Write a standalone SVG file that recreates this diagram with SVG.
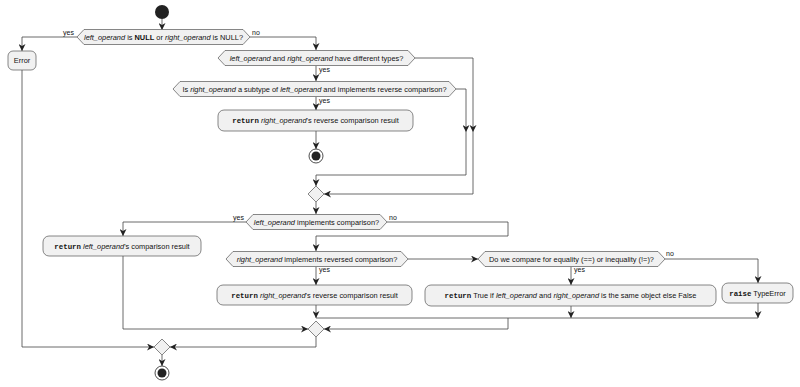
<svg xmlns="http://www.w3.org/2000/svg" width="800" height="387" viewBox="0 0 800 387">
<style>
.n{fill:#F1F1F1;stroke:#555;stroke-width:0.7}
.c{fill:none;stroke:#444;stroke-width:0.8}
.t{font-family:"Liberation Sans",Arial,sans-serif;font-size:7.4px;fill:#111;text-anchor:middle}
.l{font-family:"Liberation Sans",Arial,sans-serif;font-size:7px;fill:#111}
.i{font-style:italic}
.b{font-weight:bold}
.m{font-family:"Liberation Mono",monospace;font-weight:bold}
.s{fill:#222}
</style>
<defs>
<marker id="a" viewBox="0 0 10 10" refX="10" refY="5" markerWidth="7" markerHeight="7" markerUnits="userSpaceOnUse" orient="auto">
<path d="M0,0 L10,5 L0,10 L3,5 z" fill="#222"/>
</marker>
</defs>
<rect width="800" height="387" fill="#fff"/>
<g id="connectors">
<path class="c" d="M162,19 V30" marker-end="url(#a)"/>
<path class="c" d="M77,37 H22 V51" marker-end="url(#a)"/>
<path class="c" d="M250,37 H316 V50" marker-end="url(#a)"/>
<path class="c" d="M415,58 H473 V132" marker-end="url(#a)"/>
<path class="c" d="M473,132 V194 H324" marker-end="url(#a)"/>
<path class="c" d="M316,66 V81" marker-end="url(#a)"/>
<path class="c" d="M456,89 H466 V132" marker-end="url(#a)"/>
<path class="c" d="M466,132 V175 H316 V186" marker-end="url(#a)"/>
<path class="c" d="M316,97 V110" marker-end="url(#a)"/>
<path class="c" d="M316,131 V149" marker-end="url(#a)"/>
<path class="c" d="M316,202 V214" marker-end="url(#a)"/>
<path class="c" d="M246,222 H123 V236" marker-end="url(#a)"/>
<path class="c" d="M387,222 H508 V236 H316 V251" marker-end="url(#a)"/>
<path class="c" d="M408,259 H478" marker-end="url(#a)"/>
<path class="c" d="M316,267 V285" marker-end="url(#a)"/>
<path class="c" d="M571,267 V285" marker-end="url(#a)"/>
<path class="c" d="M665,259 H758 V283" marker-end="url(#a)"/>
<path class="c" d="M316,305 V318" marker-end="url(#a)"/>
<path class="c" d="M571,306 V318" marker-end="url(#a)"/>
<path class="c" d="M758,303 V318" marker-end="url(#a)"/>
<path class="c" d="M316,318 H758"/>
<path class="c" d="M508,318 V329 H324" marker-end="url(#a)"/>
<path class="c" d="M123,256 V329 H308" marker-end="url(#a)"/>
<path class="c" d="M316,337 V347 H170" marker-end="url(#a)"/>
<path class="c" d="M22,70 V347 H154" marker-end="url(#a)"/>
<path class="c" d="M162,355 V366" marker-end="url(#a)"/>
</g>
<g id="labels">
<text class="l" x="63" y="35">yes</text>
<text class="l" x="252" y="35">no</text>
<text class="l" x="319" y="72">yes</text>
<text class="l" x="319" y="103">yes</text>
<text class="l" x="233" y="220">yes</text>
<text class="l" x="389" y="220">no</text>
<text class="l" x="319" y="272">yes</text>
<text class="l" x="574" y="272">yes</text>
<text class="l" x="666" y="256">no</text>
</g>
<g id="start"><circle class="s" cx="162" cy="12" r="7"/></g>
<g id="d1">
<polygon class="n" points="77,37 84,29.5 243,29.5 250,37 243,44.5 84,44.5"/>
<text class="t" x="163.5" y="39.7"><tspan class="i">left_operand</tspan> is <tspan class="b">NULL</tspan> or <tspan class="i">right_operand</tspan> is NULL?</text>
</g>
<g id="error">
<rect class="n" x="8" y="51" width="28" height="19" rx="5"/>
<text class="t" x="22" y="63">Error</text>
</g>
<g id="d2">
<polygon class="n" points="218,58 225,50.5 408,50.5 415,58 408,65.5 225,65.5"/>
<text class="t" x="316.5" y="60.7"><tspan class="i">left_operand</tspan> and <tspan class="i">right_operand</tspan> have different types?</text>
</g>
<g id="d3">
<polygon class="n" points="173,89 180,81.5 449,81.5 456,89 449,96.5 180,96.5"/>
<text class="t" x="314.5" y="91.7">Is <tspan class="i">right_operand</tspan> a subtype of <tspan class="i">left_operand</tspan> and implements reverse comparison?</text>
</g>
<g id="box1">
<rect class="n" x="218" y="110" width="195" height="21" rx="6"/>
<text class="t" x="315.5" y="123.3"><tspan class="m">return</tspan> <tspan class="i">right_operand</tspan>'s reverse comparison result</text>
</g>
<g id="stop1">
<circle cx="316" cy="156" r="7" fill="none" stroke="#222" stroke-width="0.8"/>
<circle class="s" cx="316" cy="156" r="4.5"/>
</g>
<g id="merge1"><polygon class="n" points="316,186 324,194 316,202 308,194"/></g>
<g id="d4">
<polygon class="n" points="246,222 253,214.5 380,214.5 387,222 380,229.5 253,229.5"/>
<text class="t" x="316.5" y="224.7"><tspan class="i">left_operand</tspan> implements comparison?</text>
</g>
<g id="boxL">
<rect class="n" x="43" y="236" width="158" height="20" rx="6"/>
<text class="t" x="122" y="248.7"><tspan class="m">return</tspan> <tspan class="i">left_operand</tspan>'s comparison result</text>
</g>
<g id="d5">
<polygon class="n" points="226,259 233,251.5 401,251.5 408,259 401,266.5 233,266.5"/>
<text class="t" x="317" y="261.7"><tspan class="i">right_operand</tspan> implements reversed comparison?</text>
</g>
<g id="d6">
<polygon class="n" points="478,259 485,251.5 658,251.5 665,259 658,266.5 485,266.5"/>
<text class="t" x="571.5" y="261.7">Do we compare for equality (==) or inequality (!=)?</text>
</g>
<g id="box5">
<rect class="n" x="217" y="285" width="195" height="20" rx="6"/>
<text class="t" x="314.5" y="297.7"><tspan class="m">return</tspan> <tspan class="i">right_operand</tspan>'s reverse comparison result</text>
</g>
<g id="box6">
<rect class="n" x="425" y="285" width="291" height="21" rx="6"/>
<text class="t" x="570.5" y="298.2"><tspan class="m">return</tspan> True if <tspan class="i">left_operand</tspan> and <tspan class="i">right_operand</tspan> is the same object else False</text>
</g>
<g id="box7">
<rect class="n" x="722" y="283" width="71" height="20" rx="6"/>
<text class="t" x="757.5" y="295.7"><tspan class="m">raise</tspan> TypeError</text>
</g>
<g id="merge2"><polygon class="n" points="316,321 324,329 316,337 308,329"/></g>
<g id="merge3"><polygon class="n" points="162,339 170,347 162,355 154,347"/></g>
<g id="stop2">
<circle cx="162" cy="373" r="7" fill="none" stroke="#222" stroke-width="0.8"/>
<circle class="s" cx="162" cy="373" r="4.5"/>
</g>
</svg>
